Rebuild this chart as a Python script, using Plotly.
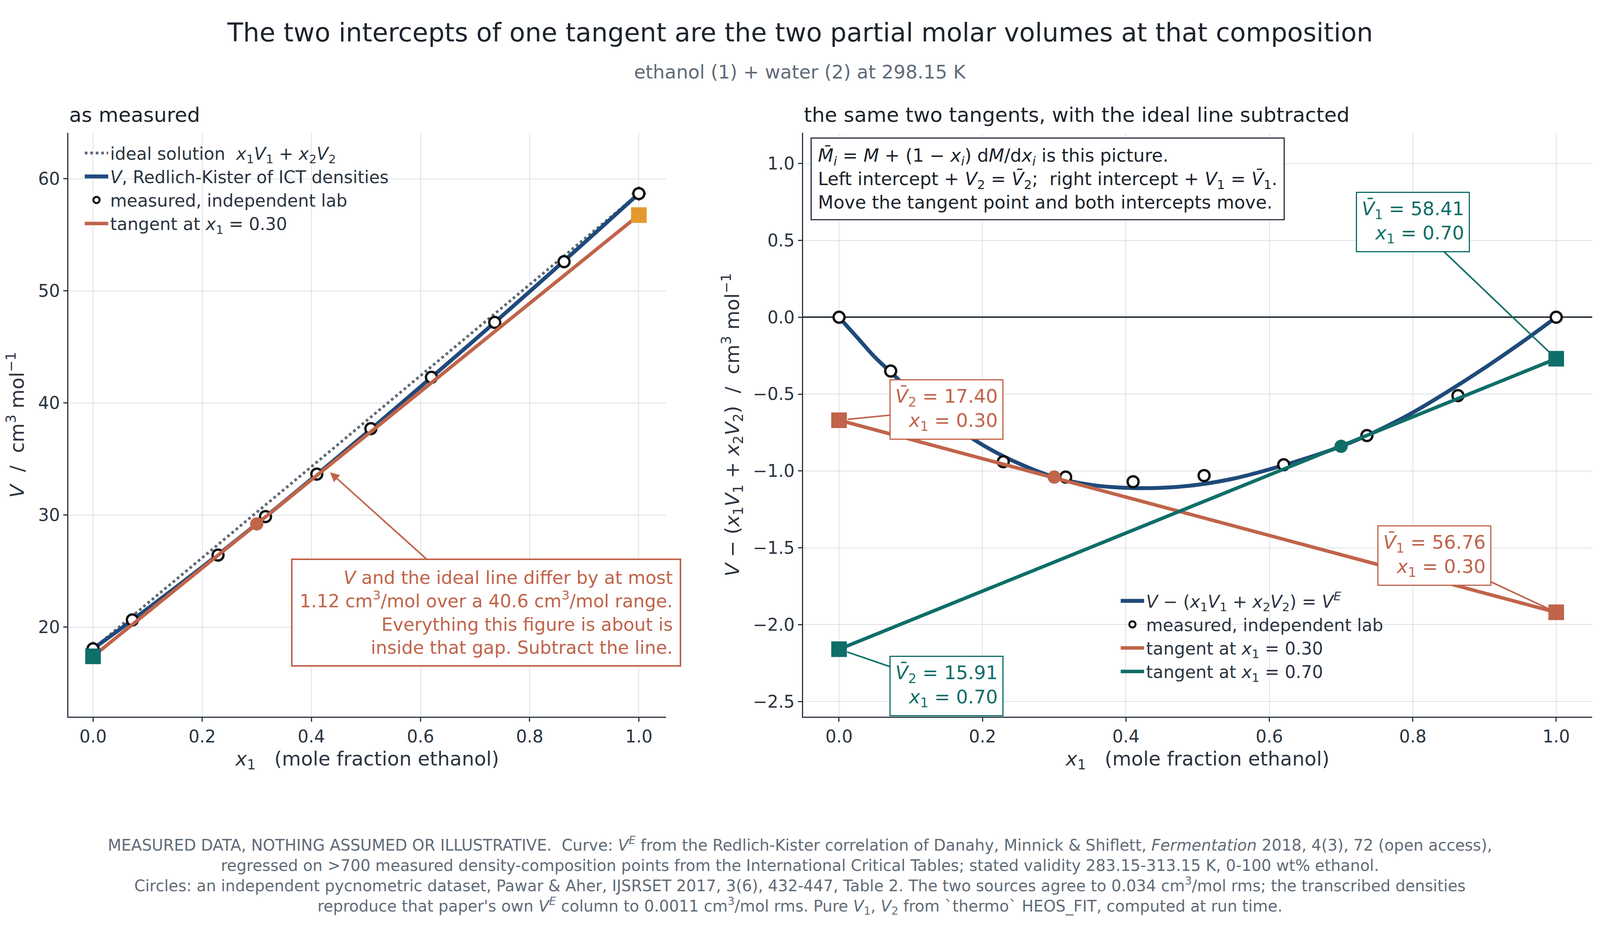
import plotly.graph_objects as go

# pure-component molar volumes, cm3/mol
V1 = 58.68
V2 = 18.07

# excess volume curve V^E (Redlich-Kister)
x_curve = [0, 0.025, 0.05, 0.075, 0.1, 0.15, 0.2, 0.25, 0.3, 0.35, 0.4, 0.45, 0.5,
           0.55, 0.6, 0.65, 0.7, 0.75, 0.8, 0.85, 0.9, 0.95, 1.0]
ve_curve = [0, -0.13, -0.26, -0.37, -0.48, -0.67, -0.83, -0.95, -1.04, -1.09, -1.11,
            -1.11, -1.09, -1.05, -0.99, -0.92, -0.84, -0.74, -0.62, -0.48, -0.33, -0.17, 0]

# measured points (independent lab)
x_meas = [0, 0.072, 0.229, 0.316, 0.41, 0.509, 0.62, 0.736, 0.863, 1.0]
ve_meas = [0, -0.35, -0.94, -1.04, -1.07, -1.03, -0.96, -0.77, -0.51, 0]

# tangents: point and the two intercepts (in V^E units)
x_t = [0.30, 0.70]
ve_t = [-1.04, -0.84]
left_int = [-0.67, -2.16]
right_int = [-1.92, -0.27]

ORANGE = "#c0644a"
TEAL = "#0f6e68"
NAVY = "#1f4a7a"
GREY = "#5f6b78"
AMBER = "#e3992e"
INK = "#2b3440"

ideal = lambda x: x * V1 + (1 - x) * V2
v_curve = [ideal(x) + v for x, v in zip(x_curve, ve_curve)]
v_meas = [ideal(x) + v for x, v in zip(x_meas, ve_meas)]

fig = go.Figure()

circ = dict(symbol="circle", size=28, color="white", line=dict(color="#111", width=6))

# ---- left panel
fig.add_trace(go.Scatter(x=[0, 1], y=[V2, V1], mode="lines",
                         line=dict(color=GREY, width=7, dash="dot"),
                         name="ideal solution  <i>x</i><sub>1</sub><i>V</i><sub>1</sub> + <i>x</i><sub>2</sub><i>V</i><sub>2</sub>",
                         xaxis="x", yaxis="y", legend="legend"))
fig.add_trace(go.Scatter(x=[0, 1], y=[V2, V1], mode="markers",
                         marker=dict(symbol="diamond", size=30, color=GREY), showlegend=False,
                         xaxis="x", yaxis="y"))
fig.add_trace(go.Scatter(x=x_curve, y=v_curve, mode="lines", line=dict(color=NAVY, width=10, shape="spline"),
                         name="<i>V</i>, Redlich-Kister of ICT densities", xaxis="x", yaxis="y", legend="legend"))
fig.add_trace(go.Scatter(x=x_meas, y=v_meas, mode="markers", marker=circ,
                         name="measured, independent lab", xaxis="x", yaxis="y", legend="legend"))
lt = [left_int[0] + V2, right_int[0] + V1]
fig.add_trace(go.Scatter(x=[0, 1], y=lt, mode="lines", line=dict(color=ORANGE, width=9),
                         name="tangent at <i>x</i><sub>1</sub> = 0.30", xaxis="x", yaxis="y", legend="legend"))
fig.add_trace(go.Scatter(x=[x_t[0]], y=[ideal(x_t[0]) + ve_t[0]], mode="markers",
                         marker=dict(size=34, color=ORANGE), showlegend=False, xaxis="x", yaxis="y"))
fig.add_trace(go.Scatter(x=[0], y=[lt[0]], mode="markers", marker=dict(symbol="square", size=40, color=TEAL),
                         showlegend=False, xaxis="x", yaxis="y"))
fig.add_trace(go.Scatter(x=[1], y=[lt[1]], mode="markers", marker=dict(symbol="square", size=40, color=AMBER),
                         showlegend=False, xaxis="x", yaxis="y"))

# ---- right panel
fig.add_trace(go.Scatter(x=x_curve, y=ve_curve, mode="lines", line=dict(color=NAVY, width=10, shape="spline"),
                         name="<i>V</i> − (<i>x</i><sub>1</sub><i>V</i><sub>1</sub> + <i>x</i><sub>2</sub><i>V</i><sub>2</sub>) = <i>V<sup>E</sup></i>",
                         xaxis="x2", yaxis="y2", legend="legend2"))
fig.add_trace(go.Scatter(x=x_meas, y=ve_meas, mode="markers", marker=circ,
                         name="measured, independent lab", xaxis="x2", yaxis="y2", legend="legend2"))
for i, col in enumerate([ORANGE, TEAL]):
    fig.add_trace(go.Scatter(x=[0, 1], y=[left_int[i], right_int[i]], mode="lines",
                             line=dict(color=col, width=9),
                             name=f"tangent at <i>x</i><sub>1</sub> = {x_t[i]:.2f}",
                             xaxis="x2", yaxis="y2", legend="legend2"))
    fig.add_trace(go.Scatter(x=[0, 1], y=[left_int[i], right_int[i]], mode="markers",
                             marker=dict(symbol="square", size=40, color=col), showlegend=False,
                             xaxis="x2", yaxis="y2"))
    fig.add_trace(go.Scatter(x=[x_t[i]], y=[ve_t[i]], mode="markers",
                             marker=dict(size=34, color=col), showlegend=False, xaxis="x2", yaxis="y2"))

axfont = dict(family="DejaVu Sans", size=44, color=INK)
common = dict(showgrid=True, gridcolor="#dde1e6", gridwidth=2, showline=True, linecolor=INK,
              linewidth=3, ticks="outside", ticklen=10, tickwidth=3, tickcolor=INK,
              tickfont=axfont)

fig.update_layout(
    autosize=True, plot_bgcolor="white", paper_bgcolor="white",
    font=dict(family="DejaVu Sans", color=INK), margin=dict(l=0, r=0, t=0, b=0),
    xaxis=dict(domain=[0.041, 0.416], range=[-0.045, 1.05], dtick=0.2, tickformat=".1f", zeroline=False,
               title=dict(text="<i>x</i><sub>1</sub>   (mole fraction ethanol)", font=dict(size=50), standoff=15),
               anchor="y", **common),
    yaxis=dict(domain=[0.224, 0.859], range=[12.0, 64.1], dtick=10, zeroline=False,
               title=dict(text="<i>V</i>  /  cm<sup>3</sup> mol<sup>−1</sup>", font=dict(size=50), standoff=20),
               anchor="x", **common),
    xaxis2=dict(domain=[0.502, 0.997], range=[-0.05, 1.05], dtick=0.2, tickformat=".1f", zeroline=False,
                title=dict(text="<i>x</i><sub>1</sub>   (mole fraction ethanol)", font=dict(size=50), standoff=15),
                anchor="y2", **common),
    yaxis2=dict(domain=[0.224, 0.859], range=[-2.6, 1.2], dtick=0.5, tickformat=".1f",
                zeroline=True, zerolinecolor=INK, zerolinewidth=4,
                title=dict(text="<i>V</i> − (<i>x</i><sub>1</sub><i>V</i><sub>1</sub> + <i>x</i><sub>2</sub><i>V</i><sub>2</sub>)  /  cm<sup>3</sup> mol<sup>−1</sup>",
                           font=dict(size=50), standoff=20),
                anchor="x2", **common),
    legend=dict(x=0.05, y=0.852, xanchor="left", yanchor="top", bgcolor="rgba(0,0,0,0)",
                font=dict(size=44), tracegroupgap=0, itemwidth=60),
    legend2=dict(x=0.70, y=0.365, xanchor="left", yanchor="top", bgcolor="rgba(0,0,0,0)",
                 font=dict(size=44), tracegroupgap=0, itemwidth=60),
)

anns = [
    dict(text="The two intercepts of one tangent are the two partial molar volumes at that composition",
         x=0.5, y=0.985, xref="paper", yref="paper", showarrow=False, font=dict(size=66, color="#1c232c"),
         yanchor="top"),
    dict(text="ethanol (1) + water (2) at 298.15 K", x=0.5, y=0.938, xref="paper", yref="paper",
         showarrow=False, font=dict(size=48, color=GREY), yanchor="top"),
    dict(text="as measured", x=0.041, y=0.865, xref="paper", yref="paper", xanchor="left",
         yanchor="bottom", showarrow=False, font=dict(size=52, color="#1c232c")),
    dict(text="the same two tangents, with the ideal line subtracted", x=0.502, y=0.865, xref="paper",
         yref="paper", xanchor="left", yanchor="bottom", showarrow=False, font=dict(size=52, color="#1c232c")),
    dict(text="<i>V</i> and the ideal line differ by at most<br>1.12 cm<sup>3</sup>/mol over a 40.6 cm<sup>3</sup>/mol range.<br>"
              "Everything this figure is about is<br>inside that gap. Subtract the line.",
         x=0.43, y=34.0, ax=0.72, ay=21.3, xref="x", yref="y", axref="x", ayref="y",
         showarrow=True, arrowhead=2, arrowsize=1.2, arrowwidth=4, arrowcolor=ORANGE, standoff=8,
         align="right", xanchor="center", font=dict(size=46, color=ORANGE), bgcolor="white",
         bordercolor=ORANGE, borderwidth=4, borderpad=18),
    dict(text="<i>M̄<sub>i</sub></i> = <i>M</i> + (1 − <i>x<sub>i</sub></i>) d<i>M</i>/d<i>x<sub>i</sub></i> is this picture.<br>"
              "Left intercept + <i>V</i><sub>2</sub> = <i>V̄</i><sub>2</sub>;  right intercept + <i>V</i><sub>1</sub> = <i>V̄</i><sub>1</sub>.<br>"
              "Move the tangent point and both intercepts move.",
         x=-0.04, y=1.17, xref="x2", yref="y2", xanchor="left", yanchor="top", showarrow=False,
         align="left", font=dict(size=46, color="#1c232c"), bgcolor="white", bordercolor=INK,
         borderwidth=3, borderpad=16),
]
labels = [
    ("<i>V̄</i><sub>2</sub> = 17.40<br><i>x</i><sub>1</sub> = 0.30", ORANGE, 0, left_int[0], 0.15, -0.6),
    ("<i>V̄</i><sub>1</sub> = 56.76<br><i>x</i><sub>1</sub> = 0.30", ORANGE, 1, right_int[0], 0.83, -1.55),
    ("<i>V̄</i><sub>2</sub> = 15.91<br><i>x</i><sub>1</sub> = 0.70", TEAL, 0, left_int[1], 0.15, -2.4),
    ("<i>V̄</i><sub>1</sub> = 58.41<br><i>x</i><sub>1</sub> = 0.70", TEAL, 1, right_int[1], 0.80, 0.62),
]
for txt, col, xx, yy, ax, ay in labels:
    anns.append(dict(text=txt, x=xx, y=yy, ax=ax, ay=ay, xref="x2", yref="y2", axref="x2", ayref="y2",
                     showarrow=True, arrowhead=0, arrowwidth=4, arrowcolor=col, standoff=22,
                     align="right", font=dict(size=48, color=col), bgcolor="white",
                     bordercolor=col, borderwidth=3, borderpad=12))
foot = ("MEASURED DATA, NOTHING ASSUMED OR ILLUSTRATIVE.  Curve: <i>V<sup>E</sup></i> from the Redlich-Kister correlation of Danahy, Minnick &amp; Shiflett, <i>Fermentation</i> 2018, 4(3), 72 (open access),<br>"
        "regressed on >700 measured density-composition points from the International Critical Tables; stated validity 283.15-313.15 K, 0-100 wt% ethanol.<br>"
        "Circles: an independent pycnometric dataset, Pawar &amp; Aher, IJSRSET 2017, 3(6), 432-447, Table 2. The two sources agree to 0.034 cm<sup>3</sup>/mol rms; the transcribed densities<br>"
        "reproduce that paper's own <i>V<sup>E</sup></i> column to 0.0011 cm<sup>3</sup>/mol rms. Pure <i>V</i><sub>1</sub>, <i>V</i><sub>2</sub> from `thermo` HEOS_FIT, computed at run time.")
anns.append(dict(text=foot, x=0.5, y=0.005, xref="paper", yref="paper", yanchor="bottom", showarrow=False,
                 align="center", font=dict(size=40, color=GREY)))
fig.update_layout(annotations=anns)

fig.write_html("out.html")
